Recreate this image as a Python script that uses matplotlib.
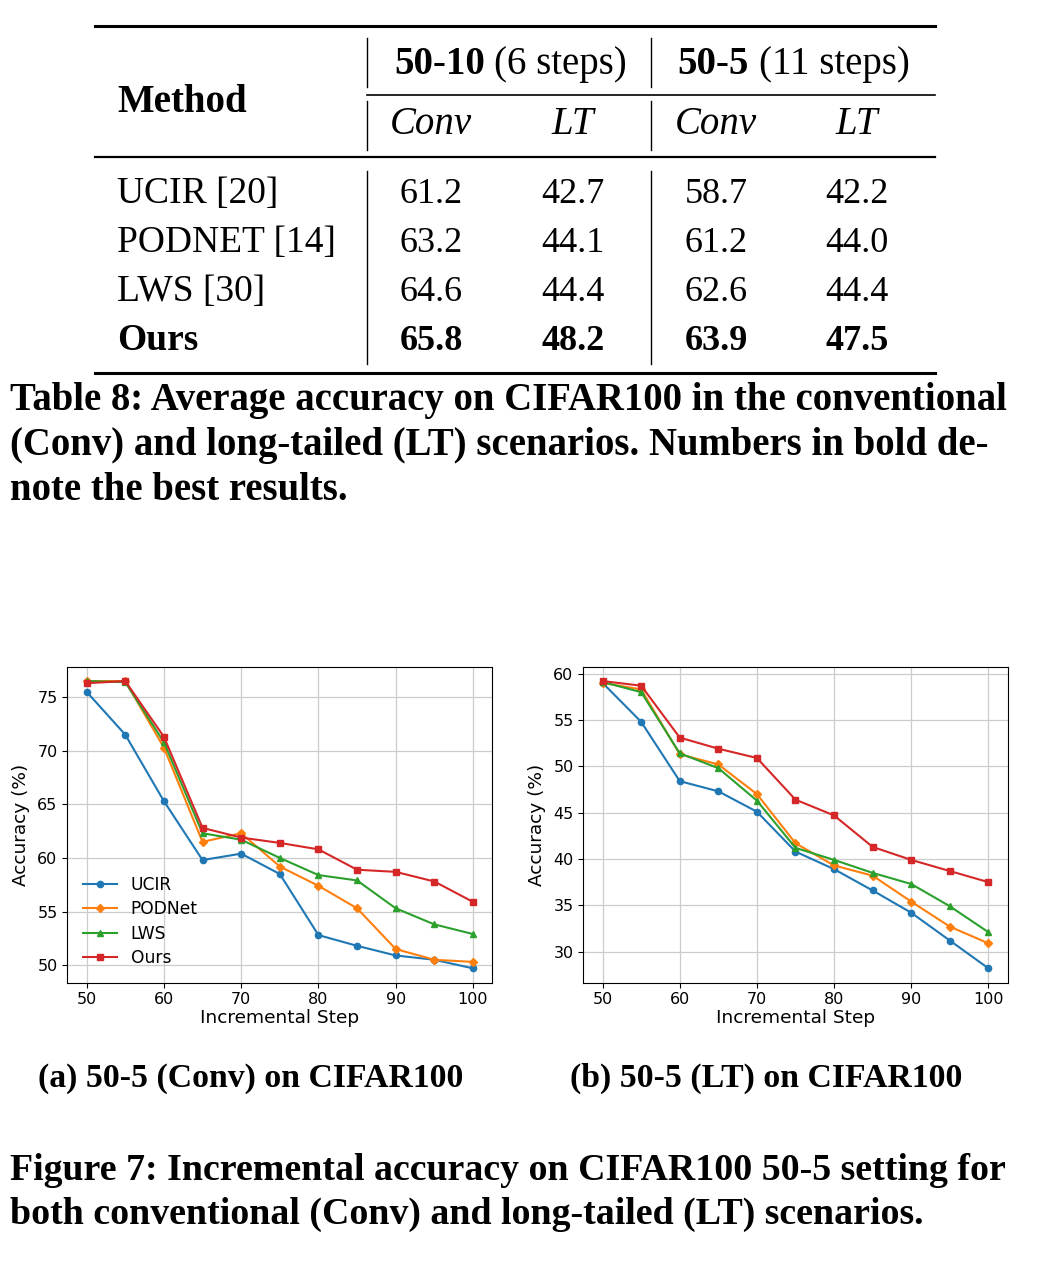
import numpy as np
from matplotlib import pyplot as plt
from matplotlib.lines import Line2D

# table 8 data
methods = ['UCIR [20]', 'PODNET [14]', 'LWS [30]', 'Ours']
conv_50_10 = ['61.2', '63.2', '64.6', '65.8']
lt_50_10 = ['42.7', '44.1', '44.4', '48.2']
conv_50_5 = ['58.7', '61.2', '62.6', '63.9']
lt_50_5 = ['42.2', '44.0', '44.4', '47.5']

# figure 7 data
steps = [50, 55, 60, 65, 70, 75, 80, 85, 90, 95, 100]
conv_ucir = [75.5, 71.5, 65.3, 59.8, 60.4, 58.5, 52.8, 51.8, 50.9, 50.5, 49.7]
conv_podnet = [76.5, 76.5, 70.3, 61.5, 62.3, 59.2, 57.4, 55.3, 51.5, 50.5, 50.3]
conv_lws = [76.5, 76.4, 70.8, 62.3, 61.7, 60.0, 58.4, 57.9, 55.3, 53.8, 52.9]
conv_ours = [76.3, 76.5, 71.3, 62.8, 61.9, 61.4, 60.8, 58.9, 58.7, 57.8, 55.9]
lt_ucir = [59.0, 54.8, 48.4, 47.3, 45.1, 40.8, 38.9, 36.6, 34.2, 31.2, 28.2]
lt_podnet = [59.0, 58.3, 51.3, 50.2, 47.0, 41.7, 39.3, 38.2, 35.4, 32.7, 30.9]
lt_lws = [59.1, 58.0, 51.4, 49.8, 46.3, 41.2, 39.9, 38.5, 37.3, 34.9, 32.1]
lt_ours = [59.2, 58.7, 53.1, 51.9, 50.9, 46.4, 44.7, 41.3, 39.9, 38.7, 37.5]

W, H = 1056, 1268
fig = plt.figure(figsize=(W / 100, H / 100), dpi=100)
serif = 'Liberation Serif'


def px(x, y):
    return x / W, 1 - y / H


def rule(x0, x1, y0, y1, lw):
    (a, b), (c, d) = px(x0, y0), px(x1, y1)
    fig.add_artist(Line2D([a, c], [b, d], color='black', lw=lw,
                          transform=fig.transFigure))


def txt(x, y, s, size=26, **kw):
    fx, fy = px(x, y)
    fig.text(fx, fy, s, fontsize=size, family=serif, va='baseline', **kw)


# --- table ---
rule(95, 935, 26, 26, 2.2)
rule(367, 935, 95, 95, 1.2)
rule(95, 935, 157, 157, 1.6)
rule(95, 935, 373, 373, 2.2)
for xv in (367, 651):
    rule(xv, xv, 38, 87, 1.0)
    rule(xv, xv, 101, 150, 1.0)
    rule(xv, xv, 171, 364, 1.0)

txt(117, 112, 'Method', size=28, weight='bold')
txt(485, 74, '50-10', size=28, weight='bold', ha='right')
txt(494, 74, '(6 steps)', size=28, ha='left')
txt(749, 74, '50-5', size=28, weight='bold', ha='right')
txt(759, 74, '(11 steps)', size=28, ha='left')
col_x = [431, 573, 716, 857]
for xc, lab in zip(col_x, ['Conv', 'LT', 'Conv', 'LT']):
    txt(xc, 134, lab, size=28, style='italic', ha='center')

row_y = [203, 252, 301, 350]
for i, m in enumerate(methods):
    w = 'bold' if m == 'Ours' else 'normal'
    txt(117, row_y[i], m, size=27, weight=w)
    for xc, col in zip(col_x, [conv_50_10, lt_50_10, conv_50_5, lt_50_5]):
        txt(xc, row_y[i], col[i], weight=w, ha='center')

cap = ['Table 8: Average accuracy on CIFAR100 in the conventional',
       '(Conv) and long-tailed (LT) scenarios. Numbers in bold de-',
       'note the best results.']
for i, line in enumerate(cap):
    txt(10, 410 + 45 * i, line, size=27.9, weight='bold')

# --- plots ---
ax1 = fig.add_axes([67.3 / W, 1 - 982.7 / H, 425 / W, 316 / H])
ax2 = fig.add_axes([583.3 / W, 1 - 982.7 / H, 424.4 / W, 316 / H])

series = [('UCIR', 'o'), ('PODNet', 'D'), ('LWS', '^'), ('Ours', 's')]
for ax, ys in [(ax1, [conv_ucir, conv_podnet, conv_lws, conv_ours]),
               (ax2, [lt_ucir, lt_podnet, lt_lws, lt_ours])]:
    for (name, mk), y in zip(series, ys):
        ax.plot(steps, y, marker=mk, markersize=4.5, lw=1.5, label=name)
    ax.grid(True, color='#cccccc', lw=0.9)
    ax.set_axisbelow(True)
    ax.set_xticks([50, 60, 70, 80, 90, 100])
    ax.tick_params(labelsize=11.5)
    ax.set_xlabel('Incremental Step', fontsize=13.3, labelpad=1)
    ax.set_ylabel('Accuracy (%)', fontsize=13.3, labelpad=5)

ax1.set_yticks([50, 55, 60, 65, 70, 75])
ax2.set_yticks([30, 35, 40, 45, 50, 55, 60])
ax1.legend(loc='lower left', frameon=False, fontsize=12.3,
           labelspacing=0.38, bbox_to_anchor=(0.0, 0.0))

txt(251, 1087, '(a) 50-5 (Conv) on CIFAR100', size=24.3, weight='bold', ha='center')
txt(766, 1087, '(b) 50-5 (LT) on CIFAR100', size=24.3, weight='bold', ha='center')

cap7 = ['Figure 7: Incremental accuracy on CIFAR100 50-5 setting for',
        'both conventional (Conv) and long-tailed (LT) scenarios.']
for i, line in enumerate(cap7):
    txt(10, 1180 + 44 * i, line, size=27.3, weight='bold')

plt.savefig('out.png', dpi=100)
